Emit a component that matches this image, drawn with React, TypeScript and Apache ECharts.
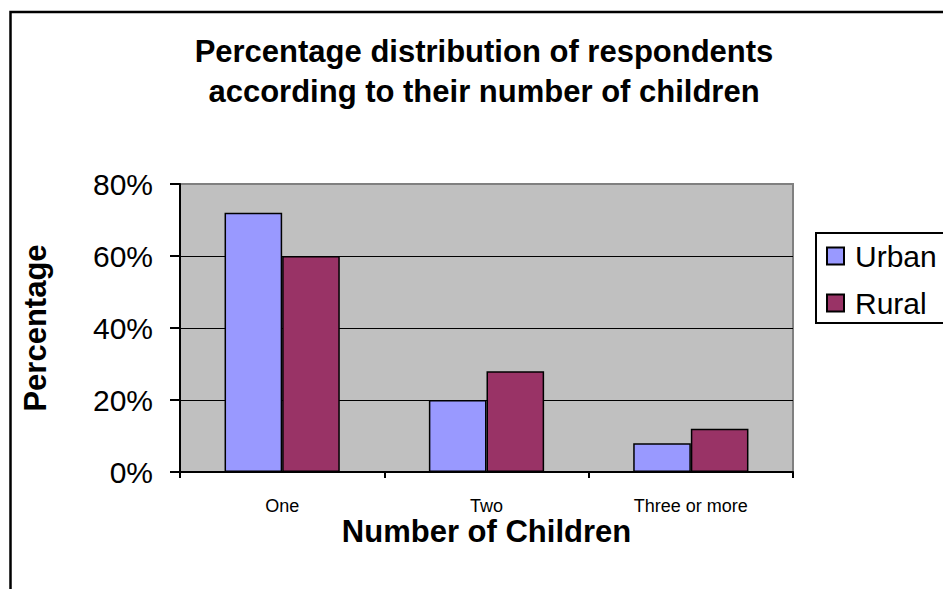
import React, { useEffect, useRef } from "react";
import * as echarts from "echarts";

const categories = ["One", "Two", "Three or more"];
const urban = [72, 20, 8];
const rural = [60, 28, 12];
const yTicks = { min: 0, max: 80, interval: 20 };
const titleLines = ["Percentage distribution of respondents", "according to their number of children"];
const FONT = "'Liberation Sans', Arial, Helvetica, sans-serif";

export default function App() {
  const ref = useRef<HTMLDivElement>(null);
  useEffect(() => {
    if (!ref.current) return;
    const chart = echarts.init(ref.current, null, { renderer: "svg" });
    chart.setOption({
      animation: false,
      backgroundColor: "#ffffff",
      textStyle: { fontFamily: FONT, color: "#000" },
      title: {
        text: titleLines.join("\n"),
        left: 484,
        textAlign: "center",
        top: 31,
        padding: 0,
        textStyle: { fontFamily: FONT, fontWeight: "bold", fontSize: 31, lineHeight: 40, color: "#000" },
      },
      graphic: [
        {
          type: "rect",
          shape: { x: 10.5, y: 12, width: 1000, height: 1000 },
          style: { fill: "none", stroke: "#000", lineWidth: 2.5 },
          silent: true,
        },
      ],
      legend: {
        orient: "vertical",
        left: 816,
        top: 233,
        padding: [6, 8, 3, 10],
        itemGap: 13,
        itemWidth: 17,
        itemHeight: 17,
        icon: "rect",
        borderColor: "#000",
        borderWidth: 2,
        textStyle: { fontFamily: FONT, fontSize: 30, lineHeight: 34, color: "#000", padding: [0, 0, 0, 6] },
        data: ["Urban", "Rural"],
      },
      grid: {
        left: 180,
        top: 184,
        width: 613,
        height: 288,
        show: true,
        backgroundColor: "#c0c0c0",
        borderColor: "#808080",
        borderWidth: 2,
        containLabel: false,
      },
      xAxis: {
        type: "category",
        data: categories,
        name: "Number of Children",
        nameLocation: "middle",
        nameGap: 33,
        nameTextStyle: { fontFamily: FONT, fontWeight: "bold", fontSize: 31, color: "#000" },
        axisLine: { lineStyle: { color: "#000", width: 2 } },
        axisTick: { show: true, length: 6, lineStyle: { color: "#000", width: 2 } },
        axisLabel: { fontFamily: FONT, fontSize: 18, color: "#000", margin: 25 },
        splitLine: { show: false },
      },
      yAxis: {
        type: "value",
        min: yTicks.min,
        max: yTicks.max,
        interval: yTicks.interval,
        name: "Percentage",
        nameLocation: "middle",
        nameGap: 129,
        nameRotate: 90,
        nameTextStyle: { fontFamily: FONT, fontWeight: "bold", fontSize: 31, color: "#000" },
        axisLine: { show: true, lineStyle: { color: "#000", width: 2 } },
        axisTick: { show: true, inside: false, length: 10, lineStyle: { color: "#000", width: 2 } },
        axisLabel: { fontFamily: FONT, fontSize: 30, color: "#000", margin: 27, formatter: "{value}%" },
        splitLine: { show: true, showMaxLine: false, lineStyle: { color: "#000", width: 1.2 } },
      },
      series: [
        {
          name: "Urban",
          type: "bar",
          data: urban,
          barGap: "0%",
          barCategoryGap: "43.6%",
          itemStyle: { color: "#9999ff", borderColor: "#000", borderWidth: 1.5 },
        },
        {
          name: "Rural",
          type: "bar",
          data: rural,
          barGap: "0%",
          barCategoryGap: "43.6%",
          itemStyle: { color: "#993366", borderColor: "#000", borderWidth: 1.5 },
        },
      ],
    });
    return () => chart.dispose();
  }, []);
  return (
    <div
      ref={ref}
      style={{ position: "fixed", left: 0, top: 0, width: 943, height: 589, background: "#fff" }}
    />
  );
}
